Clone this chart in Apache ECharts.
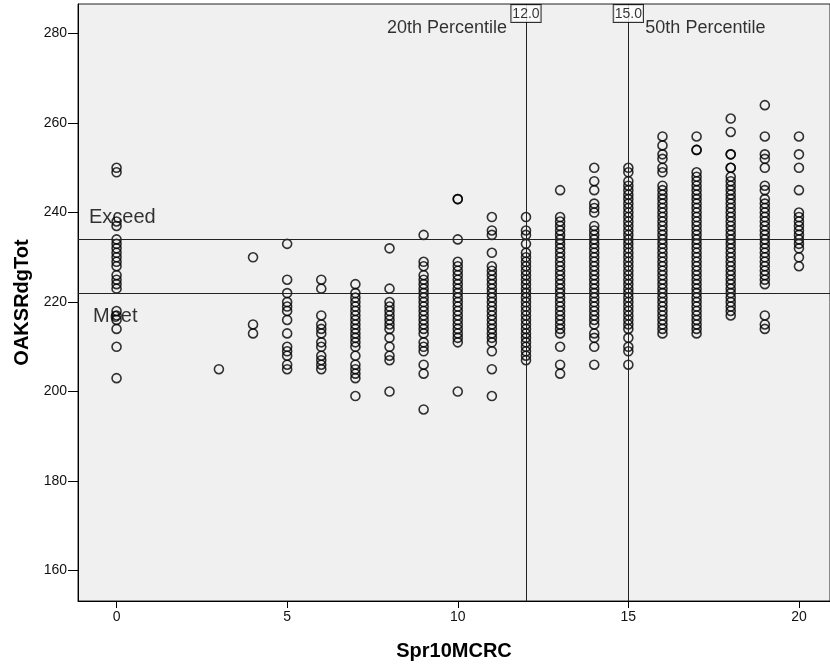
<!DOCTYPE html>
<html>
<head>
<meta charset="utf-8">
<script src="https://cdn.jsdelivr.net/npm/echarts@6/dist/echarts.min.js"></script>
<style>
  html, body { margin: 0; padding: 0; background: #fff; }
  #chart { width: 830px; height: 669px; }
</style>
</head>
<body>
<div id="chart"></div>
<script>
// OAKSRdgTot scores, one array per Spr10MCRC value
const rdg0 = [250, 249, 238, 237, 234, 233, 232, 231, 230, 229, 228, 226, 225, 224, 223, 218, 217, 216, 214, 210, 203];
const rdg3 = [205];
const rdg4 = [230, 215, 213];
const rdg5 = [233, 225, 222, 220, 219, 218, 216, 213, 210, 209, 208, 206, 205];
const rdg6 = [225, 223, 217, 215, 214, 213, 211, 210, 208, 207, 206, 205];
const rdg7 = [224, 222, 221, 220, 219, 218, 217, 216, 215, 214, 213, 212, 211, 210, 208, 206, 205, 204, 203, 199];
const rdg8 = [232, 223, 220, 219, 218, 217, 216, 215, 214, 212, 210, 208, 207, 200];
const rdg9 = [235, 229, 228, 226, 225, 224, 223, 222, 221, 220, 219, 218, 217, 216, 215, 214, 213, 211, 210, 209, 206, 204, 196];
const rdg10 = [243, 243, 234, 229, 228, 227, 226, 225, 224, 223, 222, 221, 220, 219, 218, 217, 216, 215, 214, 213, 212, 211, 200];
const rdg11 = [239, 236, 235, 231, 228, 227, 226, 225, 224, 223, 222, 221, 220, 219, 218, 217, 216, 215, 214, 213, 212, 211, 209, 205, 199];
const rdg12 = [239, 236, 235, 233, 231, 230, 229, 228, 227, 226, 225, 224, 223, 222, 221, 220, 219, 218, 217, 216, 215, 214, 213, 212, 211, 210, 209, 208, 207];
const rdg13 = [245, 239, 238, 237, 236, 235, 234, 233, 232, 231, 230, 229, 228, 227, 226, 225, 224, 223, 222, 221, 220, 219, 218, 217, 216, 215, 214, 213, 210, 206, 204];
const rdg14 = [250, 247, 245, 242, 241, 240, 237, 236, 235, 234, 233, 232, 231, 230, 229, 228, 227, 226, 225, 224, 223, 222, 221, 220, 219, 218, 217, 216, 215, 213, 212, 210, 206];
const rdg15 = [250, 249, 247, 246, 245, 244, 243, 242, 241, 240, 239, 238, 237, 236, 235, 234, 233, 232, 231, 230, 229, 228, 227, 226, 225, 224, 223, 222, 221, 220, 219, 218, 217, 216, 215, 214, 212, 210, 209, 206];
const rdg16 = [257, 255, 253, 252, 250, 249, 246, 245, 244, 243, 242, 241, 240, 239, 238, 237, 236, 235, 234, 233, 232, 231, 230, 229, 228, 227, 226, 225, 224, 223, 222, 221, 220, 219, 218, 217, 216, 215, 214, 213];
const rdg17 = [257, 254, 254, 249, 248, 247, 246, 245, 244, 243, 242, 241, 240, 239, 238, 237, 236, 235, 234, 233, 232, 231, 230, 229, 228, 227, 226, 225, 224, 223, 222, 221, 220, 219, 218, 217, 216, 215, 214, 213];
const rdg18 = [261, 258, 253, 253, 250, 250, 248, 247, 246, 245, 244, 243, 242, 241, 240, 239, 238, 237, 236, 235, 234, 233, 232, 231, 230, 229, 228, 227, 226, 225, 224, 223, 222, 221, 220, 219, 218, 217];
const rdg19 = [264, 257, 253, 252, 250, 246, 245, 243, 242, 241, 240, 239, 238, 237, 236, 235, 234, 233, 232, 231, 230, 229, 228, 227, 226, 225, 224, 217, 215, 214];
const rdg20 = [257, 253, 250, 245, 240, 239, 238, 237, 236, 235, 234, 233, 232, 230, 228];

const columns = [
  [0, rdg0], [3, rdg3], [4, rdg4], [5, rdg5], [6, rdg6], [7, rdg7], [8, rdg8],
  [9, rdg9], [10, rdg10], [11, rdg11], [12, rdg12], [13, rdg13], [14, rdg14],
  [15, rdg15], [16, rdg16], [17, rdg17], [18, rdg18], [19, rdg19], [20, rdg20]
];

const xTicks = [0, 5, 10, 15, 20];
const yTicks = [160, 180, 200, 220, 240, 260, 280];

// reference lines
const refX = [12, 15];
const refXBox = ['12.0', '15.0'];
const refXText = ['20th Percentile', '50th Percentile'];
const refY = [234, 222];
const refYText = ['Exceed', 'Meet'];

const xMin = -1.13, xMax = 20.91;
const yMin = 153.2, yMax = 286.6;

const points = [];
columns.forEach(([x, ys]) => {
  ys.forEach((y) => points.push([x, y]));
});

const FONT = "'Liberation Sans', Arial, sans-serif";

const annotations = [
  {
    value: [refX[0], yMax],
    label: { formatter: refXBox[0], position: 'bottom', distance: 1, fontSize: 14,
      backgroundColor: '#fff', borderColor: '#000', borderWidth: 1, padding: [2, 1, 1, 1] }
  },
  {
    value: [refX[1], yMax],
    label: { formatter: refXBox[1], position: 'bottom', distance: 1, fontSize: 14,
      backgroundColor: '#fff', borderColor: '#000', borderWidth: 1, padding: [2, 1, 1, 1] }
  },
  { value: [refX[0], yMax], label: { formatter: refXText[0], position: 'left', distance: 19, offset: [0, 24], fontSize: 18 } },
  { value: [refX[1], yMax], label: { formatter: refXText[1], position: 'right', distance: 17, offset: [0, 24], fontSize: 18 } },
  { value: [xMin, refY[0]], label: { formatter: refYText[0], position: 'right', distance: 11, offset: [0, -22], fontSize: 20 } },
  { value: [xMin, refY[1]], label: { formatter: refYText[1], position: 'right', distance: 15, offset: [0, 23], fontSize: 20 } }
];

const chart = echarts.init(document.getElementById('chart'));

chart.setOption({
  animation: false,
  textStyle: { fontFamily: FONT },
  grid: {
    left: 78, right: 0, top: 4, bottom: 68,
    show: true, backgroundColor: '#f0f0f0', borderColor: '#222', borderWidth: 1
  },
  xAxis: {
    type: 'value',
    min: xMin,
    max: xMax,
    name: 'Spr10MCRC',
    nameLocation: 'middle',
    nameGap: 40,
    nameTextStyle: { fontSize: 20, fontWeight: 'bold', color: '#000', fontFamily: FONT },
    axisLine: { show: true, onZero: false, lineStyle: { color: '#000', width: 1 } },
    axisTick: { show: true, length: 7, customValues: xTicks, lineStyle: { color: '#000' } },
    axisLabel: { customValues: xTicks, fontSize: 14, margin: 9, color: '#111', fontFamily: FONT },
    splitLine: { show: false }
  },
  yAxis: {
    type: 'value',
    min: yMin,
    max: yMax,
    name: 'OAKSRdgTot',
    nameLocation: 'middle',
    nameGap: 46,
    nameTextStyle: { fontSize: 20, fontWeight: 'bold', color: '#000', fontFamily: FONT },
    axisLine: { show: true, onZero: false, lineStyle: { color: '#000', width: 1 } },
    axisTick: { show: true, length: 10, customValues: yTicks, lineStyle: { color: '#000' } },
    axisLabel: { customValues: yTicks, fontSize: 14, margin: 11, color: '#111', fontFamily: FONT },
    splitLine: { show: false }
  },
  series: [
    {
      name: 'OAKSRdgTot',
      type: 'scatter',
      data: points,
      symbol: 'circle',
      symbolSize: 9,
      itemStyle: { color: 'rgba(0,0,0,0)', borderColor: '#000', borderWidth: 1.6 },
      emphasis: { disabled: true },
      silent: true,
      markLine: {
        silent: true,
        symbol: ['none', 'none'],
        label: { show: false },
        lineStyle: { color: '#222', width: 1, type: 'solid' },
        data: [
          ...refX.map((v) => ({ xAxis: v })),
          ...refY.map((v) => ({ yAxis: v }))
        ]
      }
    },
    {
      name: 'annotations',
      type: 'scatter',
      data: annotations,
      symbolSize: 0,
      clip: false,
      silent: true,
      z: 5,
      label: { show: true, color: '#000', fontFamily: FONT }
    }
  ]
});
</script>
</body>
</html>
